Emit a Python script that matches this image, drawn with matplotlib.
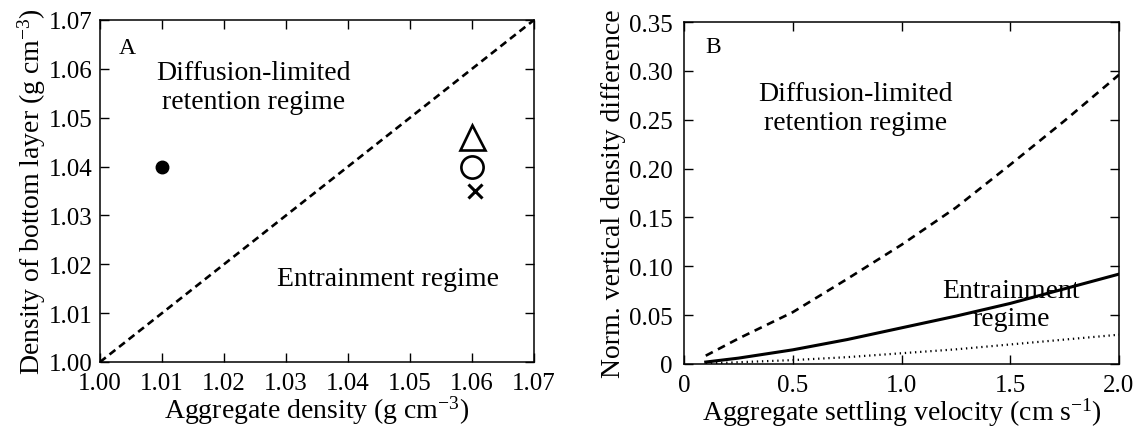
import numpy as np
import matplotlib
matplotlib.use('Agg')
import matplotlib.pyplot as plt

plt.rcParams['font.family'] = ['Liberation Serif', 'DejaVu Serif']
plt.rcParams['mathtext.fontset'] = 'custom'
plt.rcParams['mathtext.rm'] = 'Liberation Serif'
plt.rcParams['mathtext.it'] = 'Liberation Serif:italic'

# Panel A: aggregate density vs density of bottom layer
diag = [1.00, 1.07]
agg_filled = [1.01]
bottom_filled = [1.04]
agg_open = [1.06, 1.06]
bottom_open = [1.046, 1.040]
agg_cross = [1.0605]
bottom_cross = [1.035]
a_ticks = [1.00, 1.01, 1.02, 1.03, 1.04, 1.05, 1.06, 1.07]

# Panel B: normalised vertical density difference vs settling velocity
ws = [0.1, 0.25, 0.5, 0.75, 1.0, 1.25, 1.5, 1.75, 2.0]
diff_dashed = [0.0085, 0.026, 0.053, 0.087, 0.122, 0.160, 0.204, 0.249, 0.296]
diff_solid = [0.002, 0.006, 0.0145, 0.025, 0.037, 0.049, 0.062, 0.077, 0.092]
diff_dotted = [0.0005, 0.0018, 0.004, 0.007, 0.011, 0.015, 0.020, 0.025, 0.030]
b_xticks = [0, 0.5, 1.0, 1.5, 2.0]
b_xlabels = ['0', '0.5', '1.0', '1.5', '2.0']
b_yticks = [0, 0.05, 0.10, 0.15, 0.20, 0.25, 0.30, 0.35]
b_ylabels = ['0', '0.05', '0.10', '0.15', '0.20', '0.25', '0.30', '0.35']

W, H = 1137, 435
fig = plt.figure(figsize=(W / 100, H / 100), dpi=100)
ax1 = fig.add_axes([100 / W, 1 - 363 / H, 434 / W, 342 / H])
ax2 = fig.add_axes([684 / W, 1 - 365 / H, 435 / W, 342 / H])

tick_fs = 18
label_fs = 20

for ax in (ax1, ax2):
    ax.tick_params(direction='in', top=True, right=True, length=6.5, width=1.0,
                   labelsize=tick_fs, pad=5)
    ax.tick_params(axis='x', pad=7)
    for s in ax.spines.values():
        s.set_linewidth(1.1)

# --- A ---
ax1.plot(diag, diag, color='black', lw=1.9, linestyle=(0, (2.8, 1.8)))
ax1.plot(agg_filled, bottom_filled, 'o', color='black', ms=9)
ax1.plot(agg_open[:1], bottom_open[:1], '^', mfc='none', mec='black', ms=18, mew=1.9)
ax1.plot(agg_open[1:], bottom_open[1:], 'o', mfc='none', mec='black', ms=16, mew=1.9)
ax1.plot(agg_cross, bottom_cross, 'x', color='black', ms=10, mew=2.2)
ax1.set_xlim(1.00, 1.07)
ax1.set_ylim(1.00, 1.07)
ax1.set_xticks(a_ticks)
ax1.set_yticks(a_ticks)
ax1.set_xticklabels([f'{t:.2f}' for t in a_ticks])
ax1.set_yticklabels([f'{t:.2f}' for t in a_ticks])
ax1.set_xlabel('Aggregate density (g cm$^{-3}$)', fontsize=label_fs, labelpad=0)
ax1.set_ylabel('Density of bottom layer (g cm$^{-3}$)', fontsize=label_fs, labelpad=1)
ax1.text(1.003, 1.0643, 'A', fontsize=17, ha='left', va='center')
ax1.text(1.0248, 1.0563, 'Diffusion-limited\nretention regime', fontsize=label_fs,
         ha='center', va='center', linespacing=1.2)
ax1.text(1.0464, 1.017, 'Entrainment regime', fontsize=label_fs, ha='center', va='center')

# --- B ---
ax2.plot(ws, diff_dashed, color='black', lw=1.9, linestyle=(0, (3.0, 2.2)))
ax2.plot(ws, diff_solid, color='black', lw=2.2)
ax2.plot(ws, diff_dotted, color='black', lw=1.6, linestyle=(0, (0.6, 1.7)))
ax2.set_xlim(0, 2.0)
ax2.set_ylim(0, 0.35)
ax2.set_xticks(b_xticks)
ax2.set_xticklabels(b_xlabels)
ax2.set_yticks(b_yticks)
ax2.set_yticklabels(b_ylabels)
ax2.tick_params(axis='y', pad=8)
ax2.set_xlabel('Aggregate settling velocity (cm s$^{-1}$)', fontsize=label_fs, labelpad=0)
ax2.set_ylabel('Norm. vertical density difference', fontsize=label_fs, labelpad=2)
ax2.text(0.097, 0.3247, 'B', fontsize=17, ha='left', va='center')
ax2.text(0.79, 0.262, 'Diffusion-limited\nretention regime', fontsize=label_fs,
         ha='center', va='center', linespacing=1.25)
ax2.text(1.505, 0.061, 'Entrainment\nregime', fontsize=label_fs,
         ha='center', va='center', linespacing=1.18)

fig.savefig('out.png', dpi=100)
